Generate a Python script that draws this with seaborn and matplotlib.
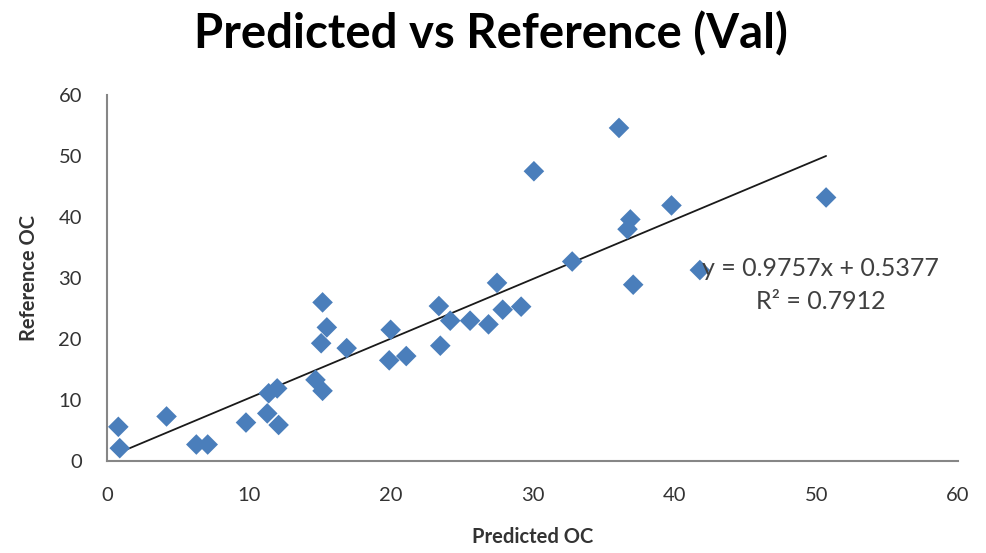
import numpy as np
import pandas as pd
import matplotlib
matplotlib.use("Agg")
import matplotlib.pyplot as plt
import seaborn as sns

# ── Data ────────────────────────────────────────────────────
predicted_oc = [0.8, 0.9, 4.2, 6.3, 7.1, 9.8, 11.3, 12.1, 11.4, 12.0,
                14.7, 15.2, 15.2, 15.5, 15.1, 16.9, 20.0, 19.9, 21.1, 23.4,
                23.5, 24.2, 25.6, 26.9, 27.5, 27.9, 29.2, 30.1, 32.8, 36.1,
                36.9, 36.7, 37.1, 39.8, 41.8, 50.7]
reference_oc = [5.6, 2.1, 7.3, 2.7, 2.7, 6.3, 7.8, 5.9, 11.1, 11.9,
                13.3, 11.5, 26.0, 21.9, 19.3, 18.5, 21.5, 16.5, 17.2, 25.4,
                18.9, 23.0, 23.0, 22.4, 29.2, 24.8, 25.3, 47.5, 32.7, 54.6,
                39.6, 38.0, 28.9, 41.9, 31.3, 43.2]
slope, intercept, r_squared = 0.9757, 0.5377, 0.7912
axis_ticks = [0, 10, 20, 30, 40, 50, 60]

df = pd.DataFrame({"Predicted OC": predicted_oc, "Reference OC": reference_oc})

sns.set_style("white")
plt.rcParams["font.family"] = ["Lato", "DejaVu Sans"]

BLUE = "#4A7EBB"
AXIS = "#868686"
TEXT = "#333333"

fig = plt.figure(figsize=(9.86, 5.53), dpi=100)
ax = fig.add_axes([0.1085, 0.1664, 0.8631, 0.6618])

sns.scatterplot(data=df, x="Predicted OC", y="Reference OC", marker="D",
                s=110, color=BLUE, edgecolor="none", ax=ax, zorder=3)

# linear trendline over the data range
xl = np.array([min(predicted_oc), max(predicted_oc)])
ax.plot(xl, slope * xl + intercept, color="#1a1a1a", lw=1.3, zorder=2)

ax.set_xlim(0, 60)
ax.set_ylim(0, 60)
ax.set_xticks(axis_ticks)
ax.set_yticks(axis_ticks)
ax.tick_params(axis="both", direction="out", length=6, width=1.2,
               color=AXIS, labelsize=14.5, labelcolor=TEXT)
ax.tick_params(axis="x", pad=13)
ax.tick_params(axis="y", pad=12)
for side in ["top", "right"]:
    ax.spines[side].set_visible(False)
for side in ["left", "bottom"]:
    ax.spines[side].set_color(AXIS)
    ax.spines[side].set_linewidth(1.5)

ax.set_xlabel("Predicted OC", fontsize=14.5, fontweight="bold", color=TEXT, labelpad=16)
ax.set_ylabel("Reference OC", fontsize=14.5, fontweight="bold", color=TEXT, labelpad=14)

ax.text(50.3, 31.6, f"y = {slope}x + {intercept}", ha="center", va="center",
        fontsize=18, color="#404040")
ax.text(50.3, 26.1, f"R² = {r_squared}", ha="center", va="center",
        fontsize=18, color="#404040")

fig.suptitle("Predicted vs Reference (Val)", x=0.498, y=0.98,
             fontsize=34, fontweight="bold", color="black")

fig.savefig("out.png", dpi=100)
